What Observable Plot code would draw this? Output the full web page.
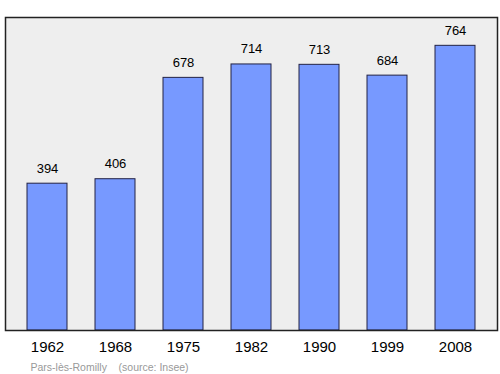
<!DOCTYPE html>
<html>
<head>
<meta charset="utf-8">
<script src="https://cdn.jsdelivr.net/npm/d3@7"></script>
<script src="https://cdn.jsdelivr.net/npm/@observablehq/plot@0.6"></script>
<style>
  html, body { margin: 0; padding: 0; background: #fff; }
  svg { display: block; font-family: "Liberation Sans", Arial, sans-serif; }
</style>
</head>
<body>
<div id="chart"></div>
<script>
const years = ["1962", "1968", "1975", "1982", "1990", "1999", "2008"];
const population = [394, 406, 678, 714, 713, 684, 764];
const caption = "Pars-lès-Romilly\u00a0\u00a0\u00a0\u00a0(source: Insee)";

const data = years.map((y, i) => ({year: y, value: population[i]}));

const chart = Plot.plot({
  width: 500,
  height: 374,
  marginTop: 17,
  marginBottom: 44,
  marginLeft: 5,
  marginRight: 3,
  style: {fontFamily: "Liberation Sans, Arial, sans-serif", background: "#fff"},
  x: {domain: years, paddingInner: 0.41, paddingOuter: 0.3225, axis: null, label: null},
  y: {domain: [0, 840], axis: null},
  marks: [
    Plot.frame({fill: "#eeeeee", stroke: "none"}),
    Plot.barY(data, {x: "year", y: "value", fill: "#7799ff", stroke: "#222244", strokeWidth: 1}),
    Plot.text(data, {x: "year", y: "value", text: d => String(d.value), lineAnchor: "bottom", dy: -11, fontSize: 13, fill: "#000"}),
    Plot.axisX({tickSize: 0, tickPadding: 11, fontSize: 15, color: "#000", label: null}),
    Plot.frame({stroke: "#222", strokeWidth: 1.5}),
    Plot.text([caption], {frameAnchor: "bottom-left", dx: 25, dy: 40, textAnchor: "start", lineAnchor: "bottom", fontSize: 10.5, fill: "#999"})
  ]
});
document.getElementById("chart").appendChild(chart);
</script>
</body>
</html>
